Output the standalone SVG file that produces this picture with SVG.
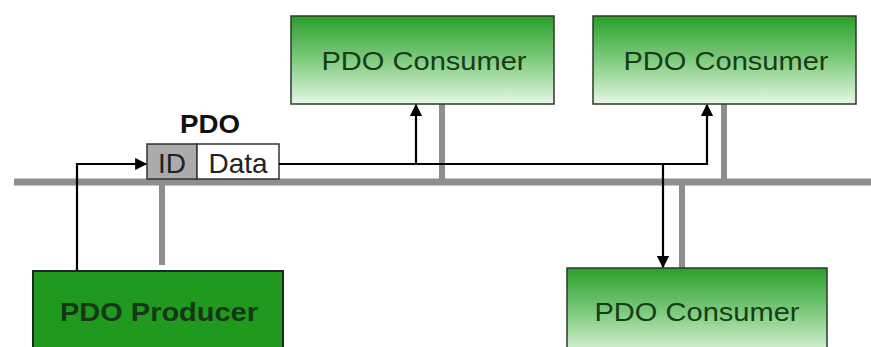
<svg xmlns="http://www.w3.org/2000/svg" width="871" height="347" viewBox="0 0 871 347">
  <defs>
    <linearGradient id="cg" x1="0" y1="0" x2="0" y2="1">
      <stop offset="0" stop-color="#2a9f2a"/>
      <stop offset="0.5" stop-color="#7fcc7f"/>
      <stop offset="1" stop-color="#e6f6e6"/>
    </linearGradient>
    <marker id="ah" viewBox="0 0 10 10" refX="9" refY="5" markerWidth="6" markerHeight="5.5" orient="auto" markerUnits="strokeWidth">
      <path d="M0,0 L10,5 L0,10 z" fill="#000"/>
    </marker>
    <style>
      .bus{stroke:#8e8e8e;stroke-width:7;fill:none}
      .stub{stroke:#8e8e8e;stroke-width:6;fill:none}
      .wire{stroke:#000;stroke-width:2.2;fill:none}
      .cons{fill:url(#cg);stroke:#2a3a2a;stroke-width:1.5}
      .ctext{font-family:"Liberation Sans",Arial,sans-serif;font-size:25px;fill:#173d17;text-anchor:middle}
    </style>
  </defs>

  <g id="bus">
    <line class="bus" x1="14" y1="182" x2="871" y2="182"/>
  </g>

  <g id="stubs">
    <line class="stub" x1="162" y1="182" x2="162" y2="265"/>
    <line class="stub" x1="442" y1="104" x2="442" y2="182"/>
    <line class="stub" x1="724" y1="104" x2="724" y2="182"/>
    <line class="stub" x1="682" y1="182" x2="682" y2="268"/>
  </g>

  <g id="consumer1">
    <rect class="cons" x="291" y="16" width="263" height="88"/>
    <text class="ctext" x="424" y="70" textLength="205" lengthAdjust="spacingAndGlyphs">PDO Consumer</text>
  </g>

  <g id="consumer2">
    <rect class="cons" x="593" y="16" width="263" height="88"/>
    <text class="ctext" x="726" y="70" textLength="205" lengthAdjust="spacingAndGlyphs">PDO Consumer</text>
  </g>

  <g id="consumer3">
    <rect class="cons" x="567" y="268" width="260" height="90"/>
    <text class="ctext" x="697" y="321" textLength="205" lengthAdjust="spacingAndGlyphs">PDO Consumer</text>
  </g>

  <g id="producer">
    <rect x="33" y="271" width="250" height="90" fill="#1f9a1f" stroke="#1a2a1a" stroke-width="2"/>
    <text x="159" y="321" font-family="Liberation Sans, Arial, sans-serif" font-size="25" font-weight="bold" fill="#173517" text-anchor="middle" textLength="198" lengthAdjust="spacingAndGlyphs">PDO Producer</text>
  </g>

  <g id="pdo">
    <text x="210" y="133" font-family="Liberation Sans, Arial, sans-serif" font-size="26" font-weight="bold" fill="#111" text-anchor="middle" textLength="60" lengthAdjust="spacingAndGlyphs">PDO</text>
    <rect x="147" y="144" width="50" height="35" fill="#ababab" stroke="#333" stroke-width="1.5"/>
    <rect x="197" y="144" width="82" height="35" fill="#fff" stroke="#333" stroke-width="1.5"/>
    <text x="172" y="173" font-family="Liberation Sans, Arial, sans-serif" font-size="28" fill="#222" text-anchor="middle">ID</text>
    <text x="238" y="173" font-family="Liberation Sans, Arial, sans-serif" font-size="28" fill="#222" text-anchor="middle">Data</text>
  </g>

  <g id="connectors">
    <polyline class="wire" points="77,271 77,164 146,164" marker-end="url(#ah)"/>
    <polyline class="wire" points="279,164 707,164 707,105" marker-end="url(#ah)"/>
    <line class="wire" x1="416" y1="164" x2="416" y2="105" marker-end="url(#ah)"/>
    <line class="wire" x1="663" y1="164" x2="663" y2="267" marker-end="url(#ah)"/>
  </g>
</svg>
